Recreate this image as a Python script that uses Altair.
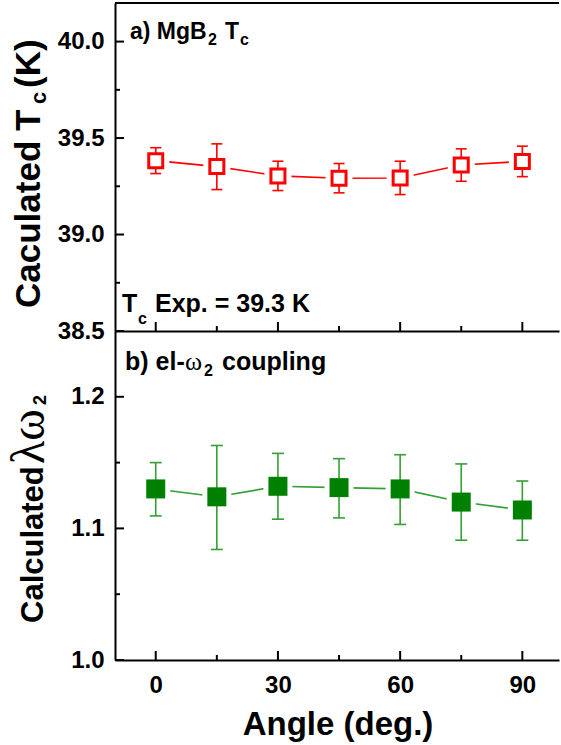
import altair as alt
import pandas as pd

# ---------------- data ----------------
angles = [0, 15, 30, 45, 60, 75, 90]

tc_value = [39.383, 39.352, 39.304, 39.292, 39.293, 39.360, 39.379]
tc_low = [39.316, 39.233, 39.228, 39.216, 39.207, 39.276, 39.300]
tc_high = [39.450, 39.470, 39.380, 39.368, 39.380, 39.444, 39.458]

lam_value = [1.130, 1.124, 1.132, 1.131, 1.130, 1.120, 1.114]
lam_low = [1.1095, 1.084, 1.107, 1.108, 1.103, 1.091, 1.091]
lam_high = [1.150, 1.163, 1.157, 1.153, 1.156, 1.149, 1.136]

tc_major = [38.5, 39.0, 39.5, 40.0]
tc_minor = [38.75, 39.25, 39.75]
lam_major = [1.0, 1.1, 1.2]
lam_minor = [1.05, 1.15]
x_major = [0, 30, 60, 90]
x_minor = [15, 45, 75]

# ---------------- styling ----------------
FONT = "Liberation Sans"
SERIF = "Liberation Serif"
RED = "#ff0000"
GREEN = "#008000"
GREEN_LINE = "#33a033"
W = 444
H1 = 328
H2 = 329

xs = alt.Scale(domain=[-10, 99], nice=False, zero=False)
ys1 = alt.Scale(domain=[38.5, 40.2], nice=False, zero=False)
ys2 = alt.Scale(domain=[1.0, 1.25], nice=False, zero=False)

common_axis = dict(ticks=False, grid=False, domain=True, domainColor="black",
                   domainWidth=2, labelFont=FONT, labelFontSize=24,
                   labelFontWeight="bold", labelColor="black", title=None,
                   labelFlush=False, labelOverlap=False)

yax1 = alt.Axis(values=tc_major, format=".1f", labelPadding=11, **common_axis)
yax2 = alt.Axis(values=lam_major, format=".1f", labelPadding=11, **common_axis)
xax_top = alt.Axis(values=x_major, labels=False, **common_axis)
xax_bot = alt.Axis(values=x_major, format="d", labelPadding=13, **common_axis)


def txt(s, x, y, size, font=FONT, weight="bold", angle=0, align="left",
        baseline="alphabetic"):
    return alt.Chart(pd.DataFrame({"s": [s]})).mark_text(
        font=font, fontSize=size, fontWeight=weight, angle=angle,
        align=align, baseline=baseline, color="black"
    ).encode(text="s:N", x=alt.value(x), y=alt.value(y))


def panel(values, lows, highs, yscale, yaxis, xaxis, H, ymajor, yminor,
          line_color, marker, halo_size, cap_size, err_color, texts, top_border):
    df = pd.DataFrame({"angle": angles, "v": values, "lo": lows, "hi": highs})
    X = alt.X("angle:Q", scale=xs, axis=xaxis)
    base = alt.Chart(df)
    line = base.mark_line(color=line_color, strokeWidth=1.6).encode(
        x=X, y=alt.Y("v:Q", scale=yscale, axis=yaxis))
    halo = base.mark_square(size=halo_size, color="white", opacity=1).encode(
        x=X, y=alt.Y("v:Q", scale=yscale, axis=yaxis))
    stem = base.mark_rule(color=err_color, strokeWidth=1.6).encode(
        x=X, y=alt.Y("lo:Q", scale=yscale, axis=yaxis), y2="hi:Q")
    cap_lo = base.mark_tick(color=err_color, orient="horizontal", size=cap_size,
                            thickness=1.6, opacity=1).encode(
        x=X, y=alt.Y("lo:Q", scale=yscale, axis=yaxis))
    cap_hi = base.mark_tick(color=err_color, orient="horizontal", size=cap_size,
                            thickness=1.6, opacity=1).encode(
        x=X, y=alt.Y("hi:Q", scale=yscale, axis=yaxis))
    pts = base.mark_square(**marker).encode(
        x=X, y=alt.Y("v:Q", scale=yscale, axis=yaxis))

    def yticks(vals, length):
        return alt.Chart(pd.DataFrame({"t": vals})).mark_rule(
            color="black", strokeWidth=2).encode(
            y=alt.Y("t:Q", scale=yscale, axis=yaxis),
            x=alt.value(0), x2=alt.value(length))

    def xticks(vals, length):
        return alt.Chart(pd.DataFrame({"t": vals})).mark_rule(
            color="black", strokeWidth=2).encode(
            x=alt.X("t:Q", scale=xs, axis=xaxis),
            y=alt.value(H), y2=alt.value(H - length))

    layers = [line, halo, stem, cap_lo, cap_hi, pts,
              yticks(ymajor, 9), yticks(yminor, 5),
              xticks(x_major, 9), xticks(x_minor, 5)]
    if top_border:
        layers.append(alt.Chart(pd.DataFrame({"t": [0]})).mark_rule(
            color="black", strokeWidth=2).encode(
            x=alt.value(0), x2=alt.value(W), y=alt.value(0)))
        # invisible anchor that fixes the outer margin (left / top)
        layers.append(alt.Chart(pd.DataFrame({"t": [0]})).mark_rule(
            opacity=0, strokeOpacity=0).encode(
            x=alt.value(-115), x2=alt.value(-115),
            y=alt.value(-3), y2=alt.value(-3)))
    layers += texts
    return alt.layer(*layers).properties(width=W, height=H)


# ---------- texts of panel a ----------
texts_a = [
    txt("a) MgB", 15, 36, 23),
    txt("2", 93, 42, 16),
    txt("T", 110, 36, 23),
    txt("c", 125, 42, 16),
    txt("T", 7, 309, 25),
    txt("c", 23, 321, 16),
    txt("Exp. = 39.3 K", 40, 309, 25),
    # rotated y title
    txt("Caculated T", -75, 305, 35, angle=270),
    txt("c", -69, 101, 22, angle=270),
    txt("(K)", -75, 85, 35, angle=270),
]

# ---------- texts of panel b ----------
texts_b = [
    txt("b) el-", 10, 39, 25),
    txt("\u03c9", 70, 39, 26, font=SERIF, weight="normal"),
    txt("2", 89, 45, 16),
    txt("coupling", 107, 39, 25),
    # rotated y title
    txt("Calculated", -72, 292, 31, angle=270),
    txt("\u03bb\u03c9", -71, 133, 48, font=SERIF, weight="normal", angle=270),
    txt("2", -69, 74, 18, angle=270),
    # x title
    txt("Angle (deg.)", 223, 404, 33, align="center"),
]

top = panel(tc_value, tc_low, tc_high, ys1, yax1, xax_top, H1, tc_major, tc_minor,
            RED, dict(size=196, fill="white", stroke=RED, strokeWidth=3, opacity=1),
            27 * 27, 11, RED, texts_a, True)

bottom = panel(lam_value, lam_low, lam_high, ys2, yax2, xax_bot, H2, lam_major,
               lam_minor, GREEN_LINE,
               dict(size=361, color=GREEN, opacity=1),
               29 * 29, 12, GREEN_LINE, texts_b, False)

chart = alt.vconcat(top, bottom, spacing=0, bounds="flush").properties(
    padding={"left": 0, "top": 0, "right": 0, "bottom": 0},
    background="white",
).configure_view(strokeWidth=0)

chart.save("out.html", embed_options={"renderer": "svg", "actions": False})
